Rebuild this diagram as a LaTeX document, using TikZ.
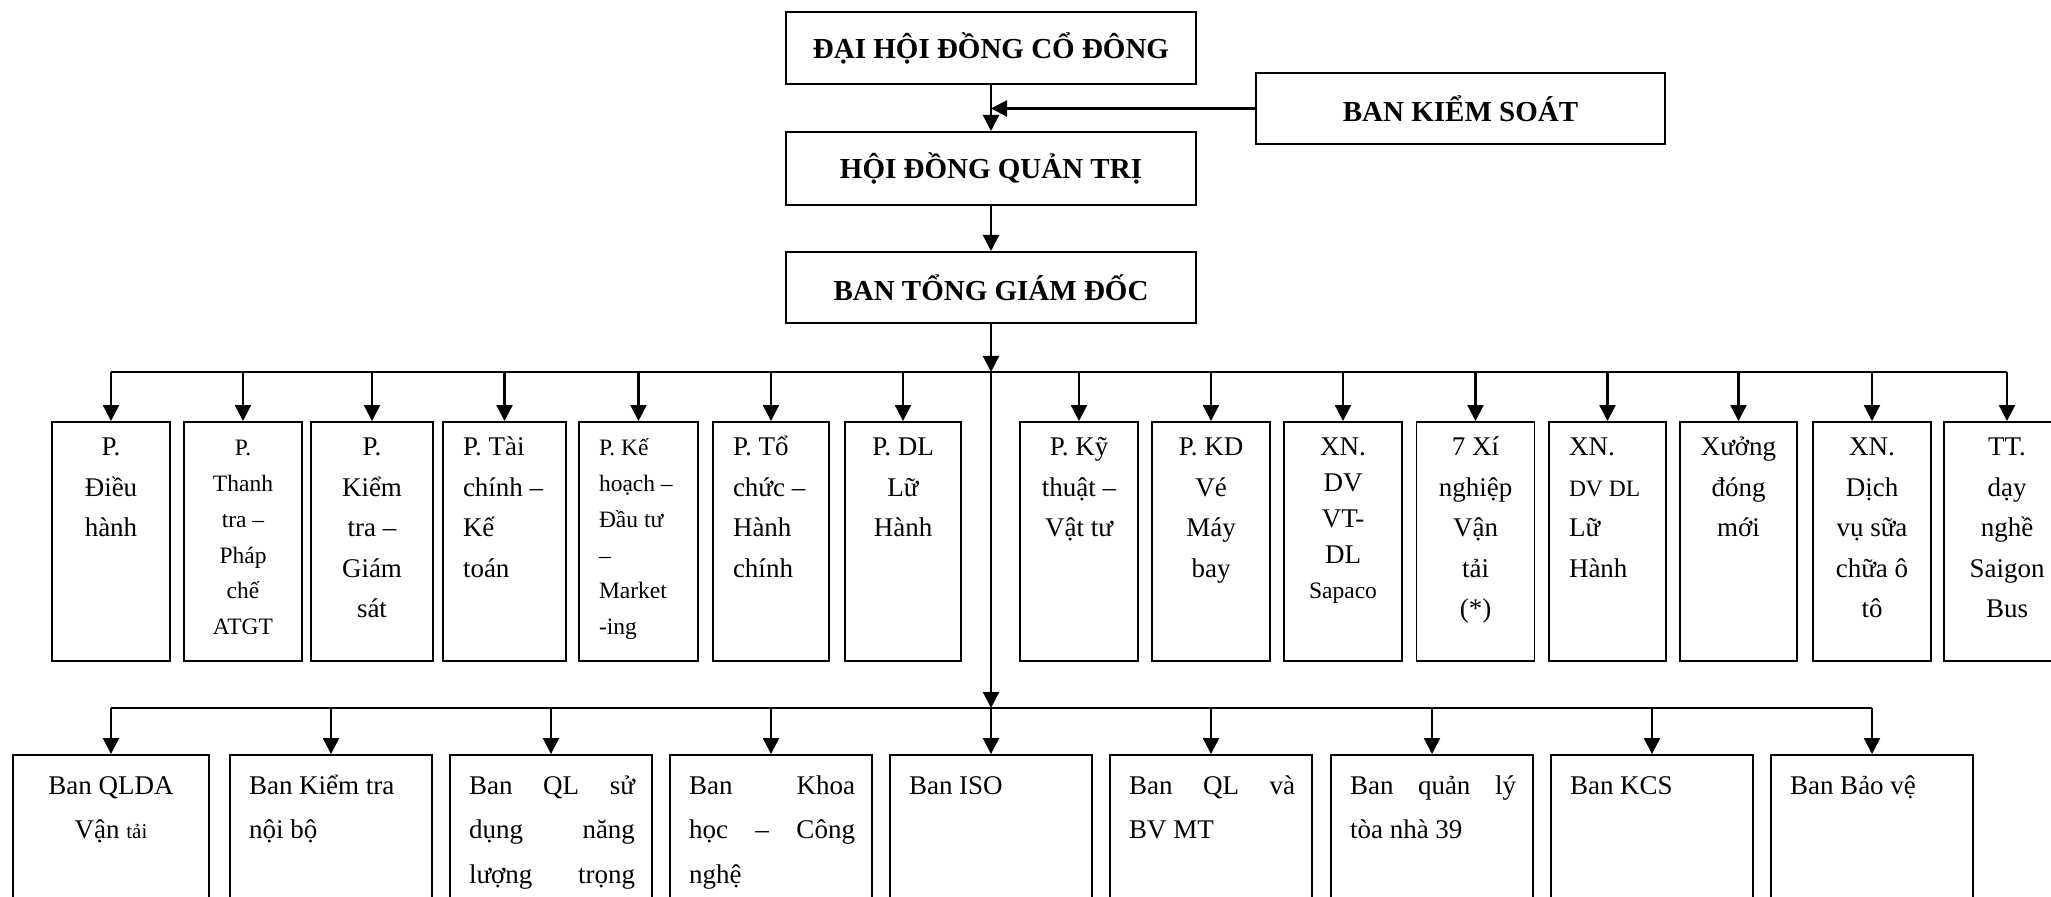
\documentclass[tikz,border=0pt]{standalone}
\usepackage{fontspec}
\setmainfont{Liberation Serif}
\usetikzlibrary{arrows.meta}
\newcommand{\nf}{\fontsize{13.5}{20.25}\selectfont}
\newcommand{\nft}{\fontsize{13.5}{17.85}\selectfont}
\newcommand{\sfs}{\fontsize{11.75}{17.85}\selectfont}
\newcommand{\smtxt}[1]{{\fontsize{11.75}{10}\selectfont #1}}
\newcommand{\tinytxt}[1]{{\fontsize{10.5}{10}\selectfont #1}}
\newcommand{\lft}{\raggedright\leftskip=10pt\relax}
\newcommand{\rowone}[5]{\node[boxA] (#1) at (#2,541.5) {\parbox[c][119.5pt][t]{#3pt}{#4\rule{0pt}{17pt}#5}};}
\newcommand{\rowtwo}[4]{\node[boxA] (#1) at (#2,857.5) {\parbox[c][102.5pt][t]{#3pt}{\leftskip=9.5pt\rightskip=0pt plus 1fil\parfillskip=0pt plus 1fil\fontsize{13.5}{22.25}\selectfont\rule{0pt}{19.5pt}#4}};}
\newcommand{\jl}[1]{\makebox[83pt][s]{#1}}
\tikzset{
  topbox/.style={draw, line width=1pt, inner sep=0pt, minimum width=205pt,
    font=\fontsize{14.5}{17}\selectfont\bfseries},
  boxA/.style={draw, line width=0.95pt, inner sep=0pt},
  arr/.style={line width=1.1pt, -{Triangle[width=8pt,length=8pt]}},
  conn/.style={line width=1.1pt}
}
\begin{document}
\begin{tikzpicture}[x=0.5pt, y=-0.5pt]
\useasboundingbox (0,0) rectangle (2051,897);
\clip (0,0) rectangle (2051,897);
% top boxes
\node[topbox, minimum height=36pt] (dh) at (991,48) {ĐẠI HỘI ĐỒNG CỔ ĐÔNG};
\node[topbox, minimum height=36.5pt] (hdqt) at (991,168.5) {HỘI ĐỒNG QUẢN TRỊ};
\node[topbox, minimum height=35.5pt] (btgd) at (991,287.5) {BAN TỔNG GIÁM ĐỐC};
\node[topbox, minimum width=204.5pt, minimum height=35.5pt] (bks) at (1460.5,108.5) {BAN KIỂM SOÁT};
% row 1
\rowone{p1}{111}{59}{\centering\nf}{P.\\Điều\\hành}
\rowone{p2}{243}{59}{\centering\sfs}{P.\\Thanh\\tra –\\Pháp\\chế\\ATGT}
\rowone{p3}{372}{61}{\centering\nf}{P.\\Kiểm\\tra –\\Giám\\sát}
\rowone{p4}{504.5}{61.5}{\lft\nf}{P. Tài\\chính –\\Kế\\toán}
\rowone{p5}{638.5}{59.5}{\lft\sfs}{P. Kế\\hoạch –\\Đầu tư\\–\\Market\\-ing}
\rowone{p6}{771}{58}{\lft\nf}{P. Tổ\\chức –\\Hành\\chính}
\rowone{p7}{903}{58}{\centering\nf}{P. DL\\Lữ\\Hành}
\rowone{p8}{1079}{59}{\centering\nf}{P. Kỹ\\thuật –\\Vật tư}
\rowone{p9}{1211}{59}{\centering\nf}{P. KD\\Vé\\Máy\\bay}
\rowone{p10}{1343}{59}{\centering\nft}{XN.\\DV\\VT-\\DL\\\smtxt{Sapaco}}
\rowone{p11}{1475.5}{59}{\centering\nf}{7 Xí\\nghiệp\\Vận\\tải\\(*)}
\rowone{p12}{1607.5}{58.5}{\lft\nf}{XN.\\\smtxt{DV DL}\\Lữ\\Hành}
\rowone{p13}{1738.5}{58.5}{\centering\nf}{Xưởng\\đóng\\mới}
\rowone{p14}{1872}{59}{\centering\nf}{XN.\\Dịch\\vụ sữa\\chữa ô\\tô}
\rowone{p15}{2007}{63}{\centering\nf}{TT.\\dạy\\nghề\\Saigon\\Bus}
% row 2
\rowtwo{q1}{111}{98}{\centering Ban QLDA\\Vận \tinytxt{tải}}
\rowtwo{q2}{331}{101}{Ban Kiểm tra\\nội bộ}
\rowtwo{q3}{551}{101}{\jl{Ban QL sử}\\\jl{dụng năng}\\\jl{lượng trọng}}
\rowtwo{q4}{771}{101}{\jl{Ban Khoa}\\\jl{học – Công}\\nghệ}
\rowtwo{q5}{991}{101}{Ban ISO}
\rowtwo{q6}{1211}{101}{\jl{Ban QL và}\\BV MT}
\rowtwo{q7}{1432}{101}{\jl{Ban quản lý}\\tòa nhà 39}
\rowtwo{q8}{1652}{101}{Ban KCS}
\rowtwo{q9}{1872}{101}{Ban Bảo vệ}
% connectors
\coordinate (bus1) at (991,372);
\coordinate (bus2) at (991,708);
\draw[arr] (dh.south) -- (hdqt.north);
\draw[arr] (bks.west) -- (bks.west -| dh.south);
\draw[arr] (hdqt.south) -- (btgd.north);
\draw[arr] (btgd.south) -- (bus1);
\draw[arr] (bus1) -- (bus2);
\draw[arr] (bus2) -- (q5.north);
\draw[conn] (p1.north |- bus1) -- (p15.north |- bus1);
\foreach \n in {p1,p2,p3,p4,p5,p6,p7,p8,p9,p10,p11,p12,p13,p14,p15}
  \draw[arr] (\n.north |- bus1) -- (\n.north);
\draw[conn] (q1.north |- bus2) -- (q9.north |- bus2);
\foreach \n in {q1,q2,q3,q4,q6,q7,q8,q9}
  \draw[arr] (\n.north |- bus2) -- (\n.north);
\end{tikzpicture}
\end{document}
